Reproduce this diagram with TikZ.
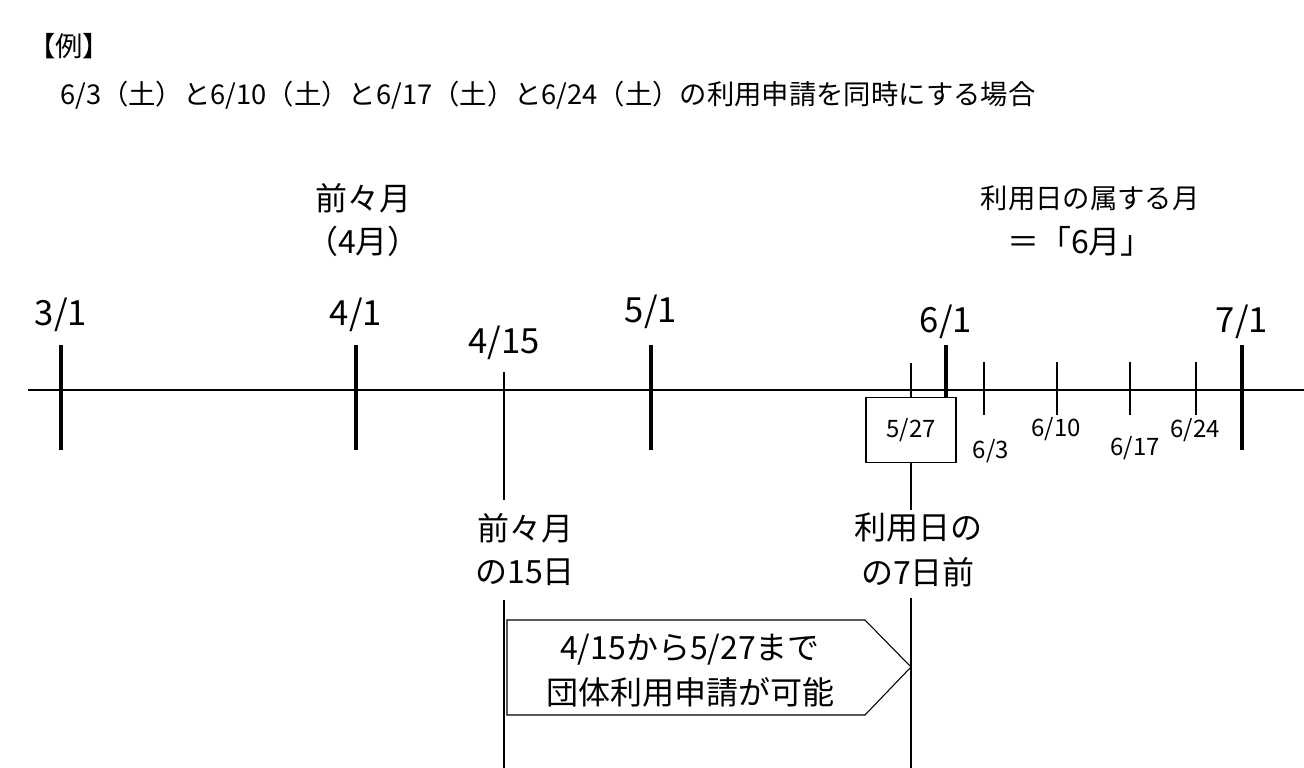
\documentclass[tikz,border=0pt]{standalone}
\usepackage{fontspec}
\setmainfont{Noto Sans CJK JP}
\begin{document}
\begin{tikzpicture}[x=0.75pt,y=-0.75pt,
  major/.style={line width=2.5pt},
  thin/.style={line width=0.8pt},
  lab/.style={inner sep=0pt,font=\fontsize{26}{30}\selectfont},
  big/.style={inner sep=0pt,font=\fontsize{24}{28}\selectfont},
  mid/.style={inner sep=0pt,font=\fontsize{20.5}{24}\selectfont},
  sm/.style={inner sep=0pt,font=\fontsize{18}{21}\selectfont}]
\useasboundingbox (0,0) rectangle (1304,768);
\node[mid,anchor=west] (t1) at (28,46) {【例】};
\node[mid,anchor=west] (t2) at (60,95) {6/3（土）と6/10（土）と6/17（土）と6/24（土）の利用申請を同時にする場合};
\coordinate (a0) at (28,390); \coordinate (a1) at (1304,390);
\draw[thin] (a0) -- (a1);
\foreach \x in {61,356,651,1242}{\draw[major] (\x,345) -- (\x,450);}
\draw[major] (946,345) -- (946,397);
\node[lab] (l31) at (61,315) {3/1};
\node[lab] (l41) at (356,315) {4/1};
\node[lab] (l51) at (651,312) {5/1};
\node[lab] (l61) at (946,322) {6/1};
\node[lab] (l71) at (1242,322) {7/1};
\node[lab] (l415) at (504,343) {4/15};
\draw[thin] (504,372) -- (504,500);
\draw[thin] (504,600) -- (504,768);
\node[draw,thin,minimum width=67.5pt,minimum height=48.75pt,inner sep=0pt,font=\fontsize{18}{21}\selectfont] (b527) at (911,430) {5/27};
\draw[thin] (911,363) -- (b527.north);
\draw[thin] (b527.south) -- (911,510);
\draw[thin] (911,598) -- (911,768);
\foreach \x in {984,1057,1130,1196}{\draw[thin] (\x,362) -- (\x,415);}
\node[sm] (d3) at (991,451) {6/3};
\node[sm] (d10) at (1056,429) {6/10};
\node[sm] (d17) at (1135,448) {6/17};
\node[sm] (d24) at (1195,430) {6/24};
\node[big] (z1) at (363,198) {前々月};
\node[big] (z2) at (363,241) {（4月）};
\node[mid] (u1) at (1090,198) {利用日の属する月};
\node[big] (u2) at (1080,241) {＝「6月」};
\node[big] (p1) at (525,528) {前々月};
\node[big] (p2) at (525,572) {の15日};
\node[big] (q1) at (918,528) {利用日の};
\node[big] (q2) at (918,572) {の7日前};
\draw[thin] (507,620) coordinate (r0) -- (865,620) -- (911,667) -- (865,715) -- (507,715) -- cycle;
\node[big] (r1) at (690,650) {4/15から5/27まで};
\node[big] (r2) at (690,692) {団体利用申請が可能};
\end{tikzpicture}
\end{document}
